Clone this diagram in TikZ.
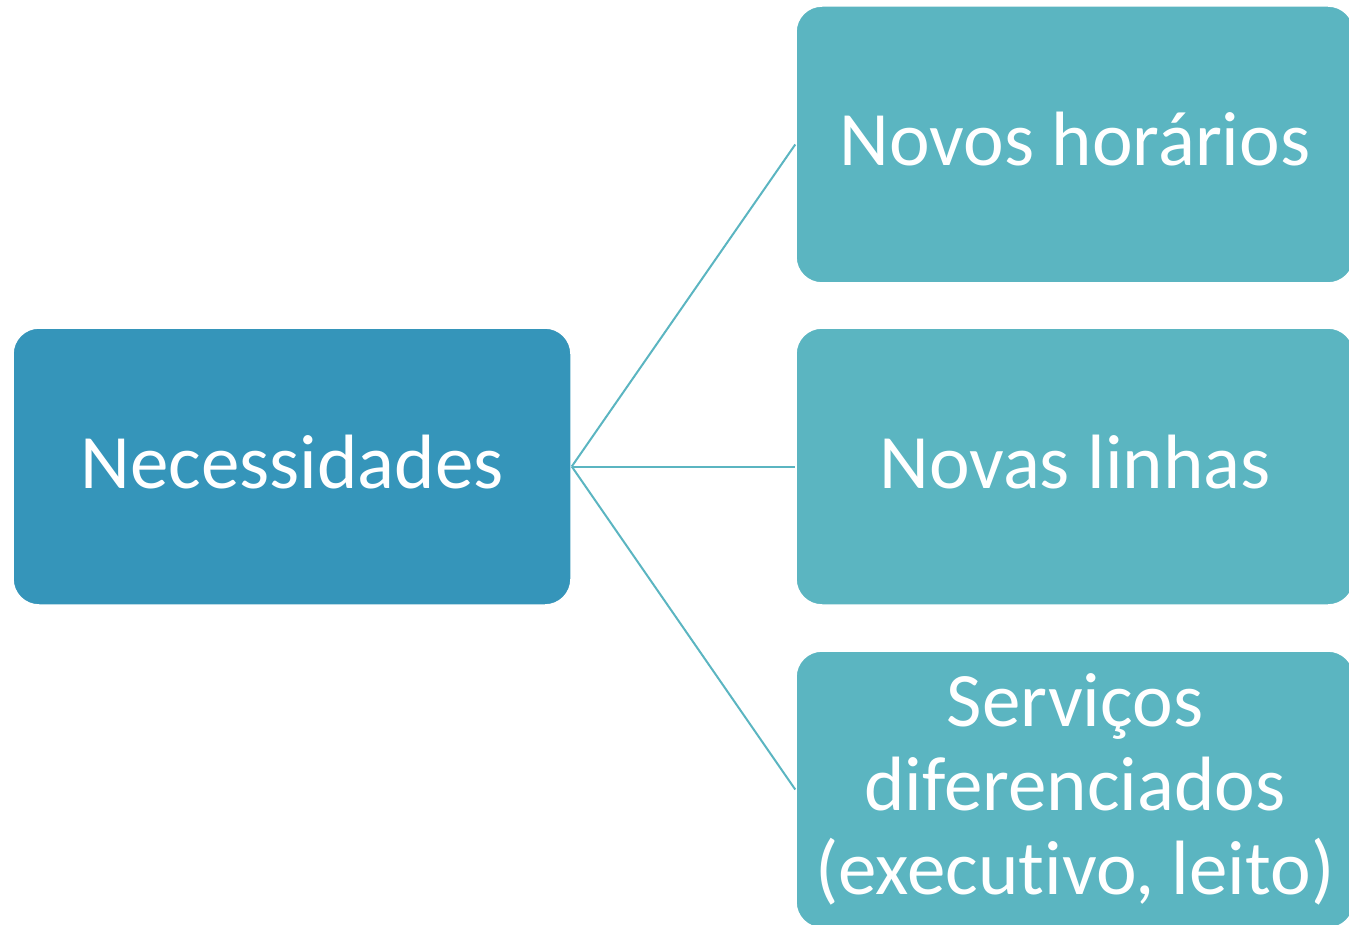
\documentclass[tikz,border=0pt]{standalone}
\usepackage{fontspec}
\setmainfont[RawFeature=-liga]{Carlito}
\definecolor{dark}{HTML}{3595BA}
\definecolor{light}{HTML}{5BB5C1}
\begin{document}
\begin{tikzpicture}[x=1pt,y=-1pt,
  box/.style={draw=white,line width=1.5pt,rounded corners=26pt,minimum width=558pt,minimum height=277pt,inner sep=0pt,text=white,align=center,font=\fontsize{77}{84}\selectfont},
  oneline/.style={text height=56pt,text depth=13pt},
  conn/.style={draw=light,line width=2pt}]
\useasboundingbox (0,0) rectangle (1349,925);
\node[box,oneline,fill=dark] (root) at (292,466.5) {Necessidades};
\node[box,oneline,fill=light] (a) at (1075,144.5) {Novos horários};
\node[box,oneline,fill=light] (b) at (1075,466.5) {Novas linhas};
\node[box,fill=light] (c) at (1075,789.5) {Serviços\\diferenciados\\(executivo, leito)};
\draw[conn] (root.east) -- (a.west);
\draw[conn] (root.east) -- (b.west);
\draw[conn] (root.east) -- (c.west);
\end{tikzpicture}
\end{document}
